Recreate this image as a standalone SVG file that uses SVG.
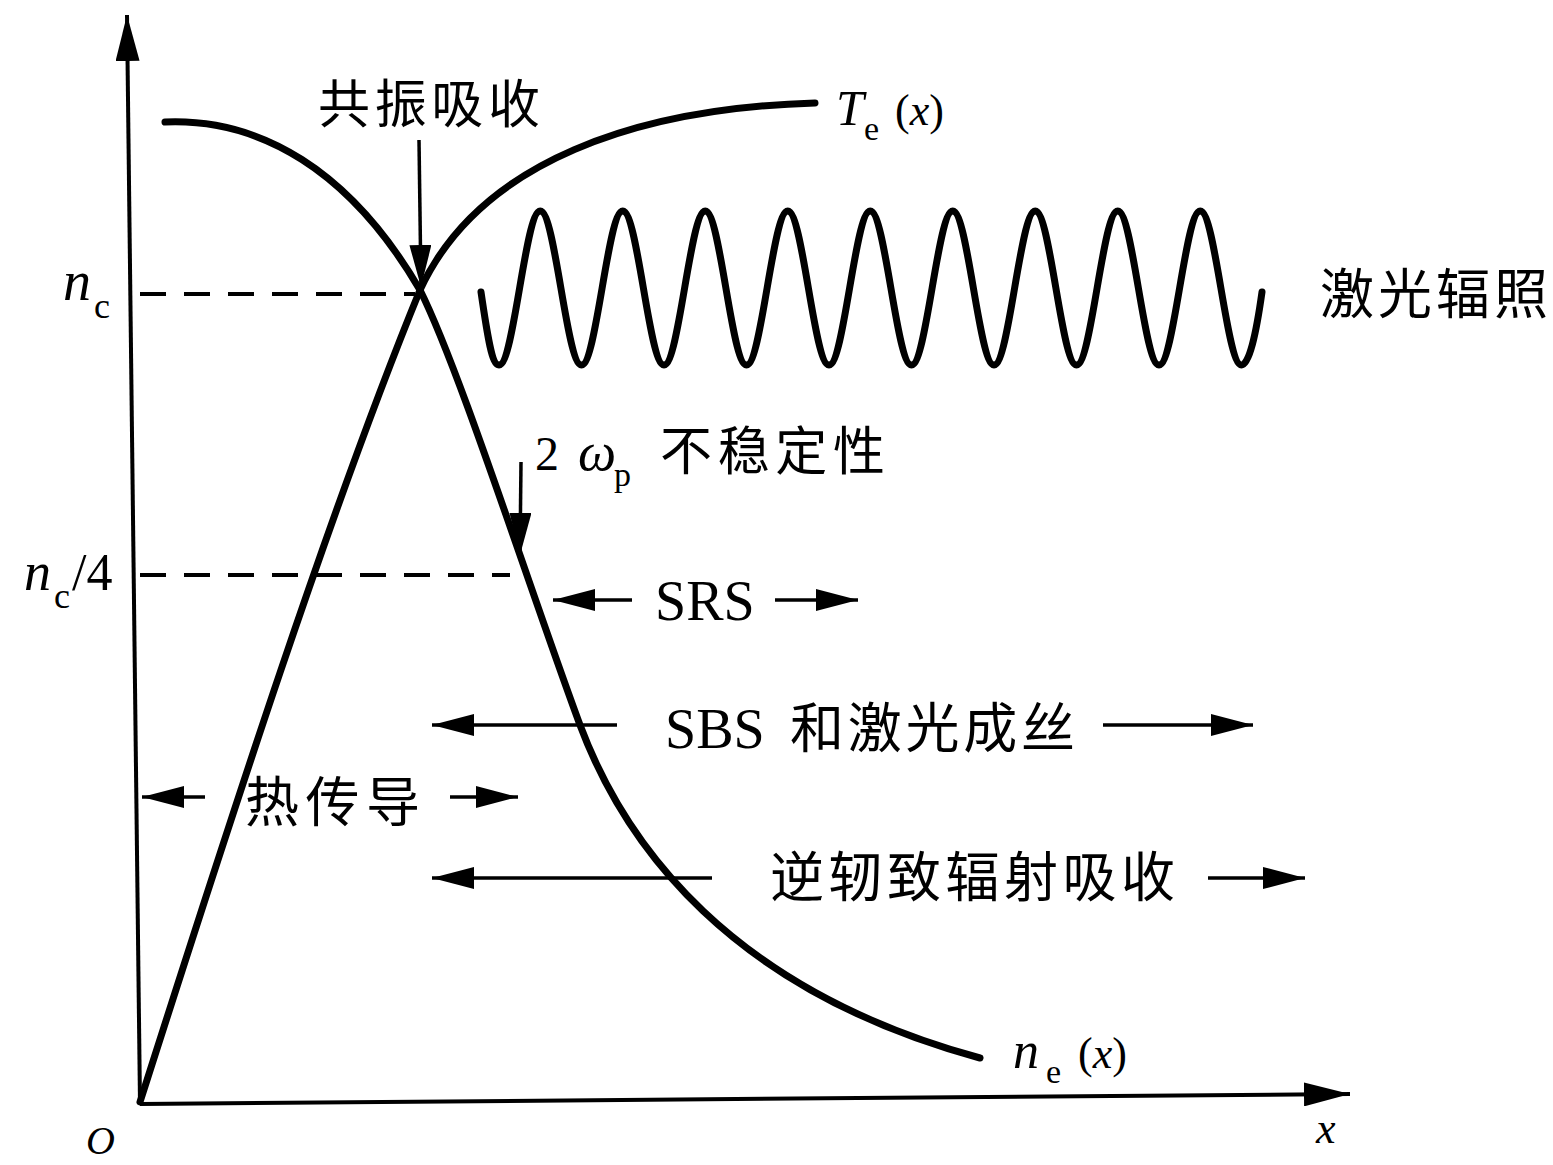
<svg xmlns="http://www.w3.org/2000/svg" width="1553" height="1165" viewBox="0 0 1553 1165">
<defs>
<style>
.curve{fill:none;stroke:#000;stroke-width:7;stroke-linecap:round;stroke-linejoin:round}
.axis{fill:none;stroke:#000;stroke-width:4}
.dash{fill:none;stroke:#000;stroke-width:4;stroke-dasharray:26 18}
.arr{fill:none;stroke:#000;stroke-width:3.5}
.cjk{font-family:"Liberation Serif","Noto Sans CJK SC",serif;fill:#000}
.m{font-family:"Liberation Serif",serif;font-style:italic;fill:#000}
.r{font-family:"Liberation Serif",serif;fill:#000}
</style>
<marker id="ah" markerUnits="userSpaceOnUse" markerWidth="44" markerHeight="22" refX="42" refY="11" orient="auto">
<path d="M0,0 L42,11 L0,22 Z" fill="#000"/>
</marker>
<marker id="axh" markerUnits="userSpaceOnUse" markerWidth="48" markerHeight="24" refX="46" refY="12" orient="auto">
<path d="M0,0 L46,12 L0,24 Z" fill="#000"/>
</marker>
</defs>
<rect width="1553" height="1165" fill="#fff"/>

<g id="axes">
<line class="axis" x1="140" y1="1104" x2="127" y2="15" marker-end="url(#axh)"/>
<line class="axis" x1="140" y1="1104" x2="1350" y2="1094" marker-end="url(#axh)"/>
<text class="m" x="86" y="1154" font-size="40">O</text>
<text class="m" x="1316" y="1143" font-size="44">x</text>
</g>

<g id="levels">
<line class="dash" x1="140" y1="294" x2="415" y2="294"/>
<line class="dash" x1="140" y1="575" x2="510" y2="575"/>
<g id="label-nc">
<text class="m" x="63" y="300" font-size="56">n</text>
<text class="r" x="94" y="318" font-size="36">c</text>
</g>
<g id="label-nc4">
<text class="m" x="24" y="590" font-size="54">n</text>
<text class="r" x="54" y="608" font-size="36">c</text>
<text class="r" x="72" y="590" font-size="52">/4</text>
</g>
</g>

<g id="curve-Te">
<path class="curve" d="M140,1102 C230,820 330,510 420,290 C480,160 640,108 815,103"/>
<text class="m" x="836" y="125" font-size="50">T</text>
<text class="r" x="864" y="140" font-size="34">e</text>
<text class="r" x="895" y="125" font-size="44">(<tspan font-style="italic">x</tspan>)</text>
</g>

<g id="curve-ne">
<path class="curve" d="M165,122 C260,118 350,170 420,290 C460,370 530,590 580,725 C625,845 730,990 980,1058"/>
<text class="m" x="1013" y="1068" font-size="52">n</text>
<text class="r" x="1046" y="1083" font-size="34">e</text>
<text class="r" x="1078" y="1068" font-size="44">(<tspan font-style="italic">x</tspan>)</text>
</g>

<g id="laser">
<path class="curve" stroke-width="6" d="M481,292 C488,340 492,365 499,365 C514,365 525.25,211 540.25,211 S566.5,365 581.5,365 S607.75,211 622.75,211 S649,365 664,365 S690.25,211 705.25,211 S731.5,365 746.5,365 S772.75,211 787.75,211 S814,365 829,365 S855.25,211 870.25,211 S896.5,365 911.5,365 S937.75,211 952.75,211 S979,365 994,365 S1020.25,211 1035.25,211 S1061.5,365 1076.5,365 S1102.75,211 1117.75,211 S1144,365 1159,365 S1185.25,211 1200.25,211 S1226.5,365 1241.5,365 C1249,365 1256,335 1262,292"/>
<text class="cjk" x="1320" y="314" font-size="54" textLength="228" lengthAdjust="spacing">激光辐照</text>
</g>

<g id="label-resonance">
<text class="cjk" x="318" y="123" font-size="52" textLength="222" lengthAdjust="spacing">共振吸收</text>
</g>

<g id="label-2wp">
<text class="r" x="535" y="470" font-size="48">2</text>
<text class="m" x="578" y="470" font-size="54">ω</text>
<text class="r" x="614" y="486" font-size="34">p</text>
<text class="cjk" x="660" y="470" font-size="52" textLength="225" lengthAdjust="spacing">不稳定性</text>
</g>

<g id="label-srs">
<text class="r" x="655" y="620" font-size="56">SRS</text>
</g>

<g id="label-sbs">
<text class="r" x="665" y="748" font-size="56">SBS</text>
<text class="cjk" x="790" y="748" font-size="54" textLength="285" lengthAdjust="spacing">和激光成丝</text>
</g>

<g id="label-heat">
<text class="cjk" x="245" y="822" font-size="54" textLength="175" lengthAdjust="spacing">热传导</text>
</g>

<g id="label-ib">
<text class="cjk" x="770" y="897" font-size="54" textLength="405" lengthAdjust="spacing">逆轫致辐射吸收</text>
</g>

<g id="connectors">
<line class="arr" x1="419" y1="140" x2="421" y2="287" marker-end="url(#ah)"/>
<line class="arr" x1="521" y1="462" x2="520" y2="555" marker-end="url(#ah)"/>
<line class="arr" x1="632" y1="600" x2="553" y2="600" marker-end="url(#ah)"/>
<line class="arr" x1="775" y1="600" x2="858" y2="600" marker-end="url(#ah)"/>
<line class="arr" x1="617" y1="725" x2="432" y2="725" marker-end="url(#ah)"/>
<line class="arr" x1="1103" y1="725" x2="1253" y2="725" marker-end="url(#ah)"/>
<line class="arr" x1="205" y1="797" x2="142" y2="797" marker-end="url(#ah)"/>
<line class="arr" x1="450" y1="797" x2="518" y2="797" marker-end="url(#ah)"/>
<line class="arr" x1="712" y1="878" x2="432" y2="878" marker-end="url(#ah)"/>
<line class="arr" x1="1208" y1="878" x2="1305" y2="878" marker-end="url(#ah)"/>
</g>
</svg>
